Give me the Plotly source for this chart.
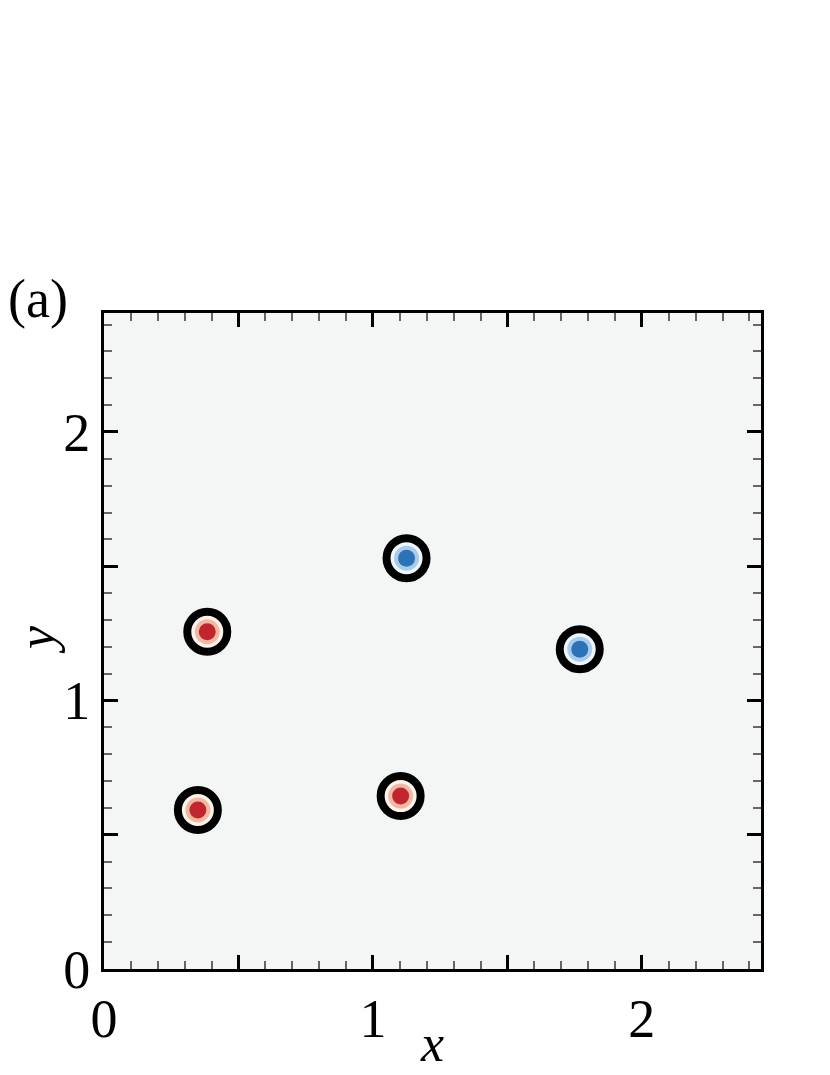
import plotly.graph_objects as go

# Vortex centres
pos_x = [0.349, 0.384, 1.103]   # positive (red) vortices
pos_y = [0.592, 1.256, 0.644]
neg_x = [1.125, 1.769]          # negative (blue) vortices
neg_y = [1.530, 1.191]

x_major = [0, 0.5, 1, 1.5, 2]
x_labels = ["0", "", "1", "", "2"]
y_major = [0, 0.5, 1, 1.5, 2]
y_labels = ["0", "", "1", "", "2"]
axis_range = [0, 2.443]

FONT = "Liberation Serif"

fig = go.Figure()

def add_vortex(xs, ys, halo, mid, core):
    # black ring with light halo fill
    fig.add_trace(go.Scatter(x=xs, y=ys, mode="markers", hoverinfo="skip",
                             marker=dict(size=40, color=halo, line=dict(color="black", width=8))))
    # intermediate shade
    fig.add_trace(go.Scatter(x=xs, y=ys, mode="markers", hoverinfo="skip",
                             marker=dict(size=25, color=mid, line=dict(width=0))))
    # core
    fig.add_trace(go.Scatter(x=xs, y=ys, mode="markers", hoverinfo="skip",
                             marker=dict(size=17, color=core, line=dict(width=0))))

add_vortex(pos_x, pos_y, "#fdf3ea", "#f1b9a3", "#c1252d")
add_vortex(neg_x, neg_y, "#eef5fb", "#a9cde8", "#2c72b8")

axis_common = dict(
    range=axis_range, showgrid=False, zeroline=False,
    showline=True, linecolor="black", linewidth=3, mirror="allticks",
    ticks="inside", ticklen=14, tickwidth=3, tickcolor="black",
    tickfont=dict(family=FONT, size=54, color="black"),
    minor=dict(dtick=0.1, ticks="inside", ticklen=8, tickwidth=1.5, tickcolor="#666666"),
)

fig.update_xaxes(**axis_common, tickmode="array", tickvals=x_major, ticktext=x_labels)
fig.update_yaxes(**axis_common, tickmode="array", tickvals=y_major, ticktext=y_labels)

fig.update_layout(
    width=830, height=1075,
    margin=dict(l=96, r=77, t=305, b=114),
    paper_bgcolor="white", plot_bgcolor="#f4f5f5",
    showlegend=False,
    font=dict(family=FONT, color="black"),
    annotations=[
        dict(text="<i>x</i>", xref="paper", yref="paper", x=0.499, y=-0.114,
             xanchor="center", yanchor="middle", showarrow=False,
             font=dict(family=FONT, size=52)),
        dict(text="<i>y</i>", xref="paper", yref="paper", x=-0.1035, y=0.5015,
             xanchor="center", yanchor="middle", showarrow=False, textangle=-90,
             font=dict(family=FONT, size=52)),
        dict(text="(a)", xref="paper", yref="paper", x=-0.1005, y=1.021,
             xanchor="center", yanchor="middle", showarrow=False,
             font=dict(family=FONT, size=54)),
    ],
)

fig.write_html("out.html")
